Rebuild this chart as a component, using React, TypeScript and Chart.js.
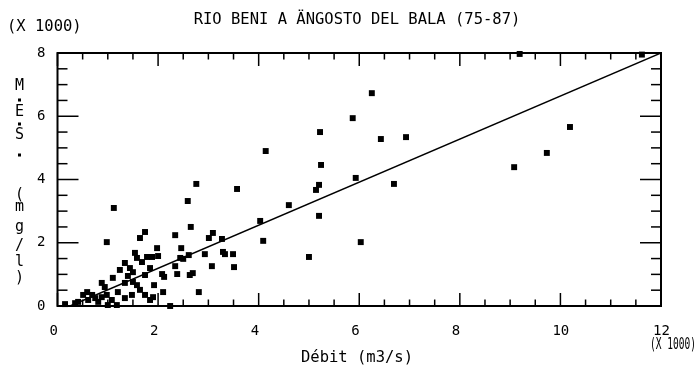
import React, { useEffect, useRef } from "react";
import { Chart, registerables } from "chart.js";

Chart.register(...registerables);

// Débit (x 1000 m3/s)
const debit = [
  9.19, 11.62, 10.19, 9.73, 9.08, 6.25, 5.87, 5.22, 6.43, 6.93,
  4.14, 5.24, 5.2, 5.14, 5.93, 6.69, 4.6, 5.2, 4.03, 4.09,
  6.03, 5.0, 2.76, 3.57, 2.59, 2.65, 2.34, 3.09, 3.01, 3.27,
  1.98, 2.46, 1.88, 2.0, 2.44, 2.5, 2.61, 2.93, 3.29, 3.33,
  3.49, 2.34, 3.07, 3.51, 2.08, 2.12, 2.38, 2.63, 2.69, 1.92,
  2.1, 2.81, 1.9, 2.24, 1.12, 0.98, 1.74, 1.64, 1.54, 1.58,
  1.78, 1.34, 1.44, 1.5, 1.74, 1.1, 0.88, 0.94, 1.34, 1.5,
  1.58, 1.2, 0.59, 0.51, 0.69, 0.75, 0.88, 0.98, 1.48, 1.74,
  0.41, 0.35, 0.81, 1.0, 1.18, 1.24, 1.4, 1.64, 1.08, 0.61,
  1.34, 1.84, 1.68, 0.15, 1.84,
];
// M.E.S. (x 1000 mg/l)
const mes = [
  7.97, 7.95, 5.66, 4.84, 4.39, 6.73, 5.94, 5.5, 5.28, 5.34,
  4.9, 4.46, 3.83, 3.67, 4.05, 3.86, 3.19, 2.85, 2.69, 2.06,
  2.02, 1.55, 3.86, 3.7, 3.32, 2.5, 2.24, 2.31, 2.15, 2.12,
  1.83, 1.83, 1.55, 1.58, 1.52, 1.49, 1.61, 1.64, 1.71, 1.64,
  1.64, 1.26, 1.26, 1.23, 1.01, 0.92, 1.01, 0.98, 1.04, 0.66,
  0.44, 0.44, 0.28, 0.0, 3.1, 2.02, 2.34, 2.15, 1.68, 1.52,
  1.55, 1.36, 1.2, 1.07, 0.98, 0.89, 0.73, 0.6, 0.73, 0.76,
  0.66, 0.44, 0.44, 0.35, 0.35, 0.25, 0.28, 0.35, 0.35, 0.35,
  0.13, 0.09, 0.13, 0.03, 0.03, 1.14, 0.95, 0.51, 0.19, 0.19,
  0.25, 1.2, 1.39, 0.06, 0.19,
];
// regression line
const regX = [0.25, 12];
const regY = [0, 8];

const xTickValues = [0, 2, 4, 6, 8, 10, 12];
const yTickValues = [0, 2, 4, 6, 8];

const titleText = "RIO BENI A ÄNGOSTO DEL BALA (75-87)";
const xTitle = "Débit (m3/s)";
const yTitleChars = ["M", ".", "E", ".", "S", ".", "(", "m", "g", "/", "l", ")"];
const multiplierText = "(X 1000)";

const FONT = '"DejaVu Sans Mono", "Liberation Mono", monospace';

const decor = {
  id: "decor",
  afterDraw(chart: any) {
    const { ctx, chartArea } = chart;
    const { left, right, top, bottom } = chartArea;
    const xs = chart.scales.x;
    const ys = chart.scales.y;
    ctx.save();
    ctx.strokeStyle = "#000";
    ctx.lineWidth = 1.5;
    const seg = (a: number, b: number, c: number, d: number) => {
      ctx.beginPath();
      ctx.moveTo(a, b);
      ctx.lineTo(c, d);
      ctx.stroke();
    };
    for (let v = 0; v <= 12.001; v += 0.5) {
      const px = xs.getPixelForValue(v);
      const L = Math.abs(v % 2) < 1e-6 ? 13 : 6.5;
      seg(px, bottom, px, bottom - L);
      seg(px, top, px, top + L);
    }
    for (let v = 0; v <= 8.001; v += 0.5) {
      const py = ys.getPixelForValue(v);
      const L = Math.abs(v % 2) < 1e-6 ? 21 : 10;
      seg(left, py, left + L, py);
      seg(right, py, right - L, py);
    }
    ctx.lineWidth = 2;
    ctx.strokeRect(left, top, right - left, bottom - top);

    ctx.fillStyle = "#000";
    ctx.textBaseline = "middle";
    ctx.font = `15.5px ${FONT}`;
    ctx.textAlign = "center";
    ctx.fillText(titleText, 357, 20);
    ctx.fillText(xTitle, 357, 358);
    ctx.textAlign = "left";
    ctx.fillText(multiplierText, 7, 27);
    ctx.font = `15px ${FONT}`;
    ctx.fillText(multiplierText, 650, 345, 46);

    // vertical y title
    const yPos = [86, 100, 112, 124, 135, 155, 195, 207, 227, 246, 262, 278];
    ctx.textAlign = "center";
    ctx.font = `15px ${FONT}`;
    yTitleChars.forEach((c, i) => {
      if (c === ".") {
        ctx.fillRect(18, yPos[i] - 1.5, 3, 3);
      } else {
        ctx.fillText(c, 19.5, yPos[i]);
      }
    });
    ctx.restore();
  },
};

export default function App() {
  const ref = useRef<HTMLCanvasElement>(null);
  useEffect(() => {
    if (!ref.current) return;
    const chart = new Chart(ref.current, {
      type: "scatter",
      data: {
        datasets: [
          {
            type: "scatter",
            data: debit.map((d, i) => ({ x: d, y: mes[i] })),
            pointStyle: "rect",
            pointRadius: 4.2,
            backgroundColor: "#000",
            borderColor: "#000",
            borderWidth: 0,
            clip: false,
          } as any,
          {
            type: "line",
            data: regX.map((d, i) => ({ x: d, y: regY[i] })),
            borderColor: "#000",
            borderWidth: 1.5,
            pointRadius: 0,
            showLine: true,
            fill: false,
          } as any,
        ],
      },
      options: {
        animation: false,
        responsive: false,
        maintainAspectRatio: false,
        layout: { padding: { left: 0, top: 53, right: 35, bottom: 0 } },
        plugins: { legend: { display: false }, tooltip: { enabled: false }, title: { display: false } },
        scales: {
          x: {
            type: "linear",
            min: 0,
            max: 12,
            grid: { display: false, drawTicks: false },
            border: { display: false },
            afterBuildTicks: (s: any) => {
              s.ticks = xTickValues.map((v) => ({ value: v }));
            },
            ticks: {
              color: "#000",
              font: { family: FONT, size: 14 },
              padding: 17,
              align: "start",
              labelOffset: -8,
              maxRotation: 0,
            },
            afterFit: (s: any) => {
              s.height = 64;
            },
          },
          y: {
            type: "linear",
            min: 0,
            max: 8,
            grid: { display: false, drawTicks: false },
            border: { display: false },
            afterBuildTicks: (s: any) => {
              s.ticks = yTickValues.map((v) => ({ value: v }));
            },
            ticks: {
              color: "#000",
              font: { family: FONT, size: 14 },
              padding: 12,
            },
            afterFit: (s: any) => {
              s.width = 57.5;
            },
          },
        },
      } as any,
      plugins: [decor],
    });
    return () => chart.destroy();
  }, []);
  return (
    <div style={{ position: "absolute", left: 0, top: 0, width: 696, height: 370, background: "#fff" }}>
      <canvas ref={ref} width={696} height={370} style={{ width: 696, height: 370 }} />
    </div>
  );
}
